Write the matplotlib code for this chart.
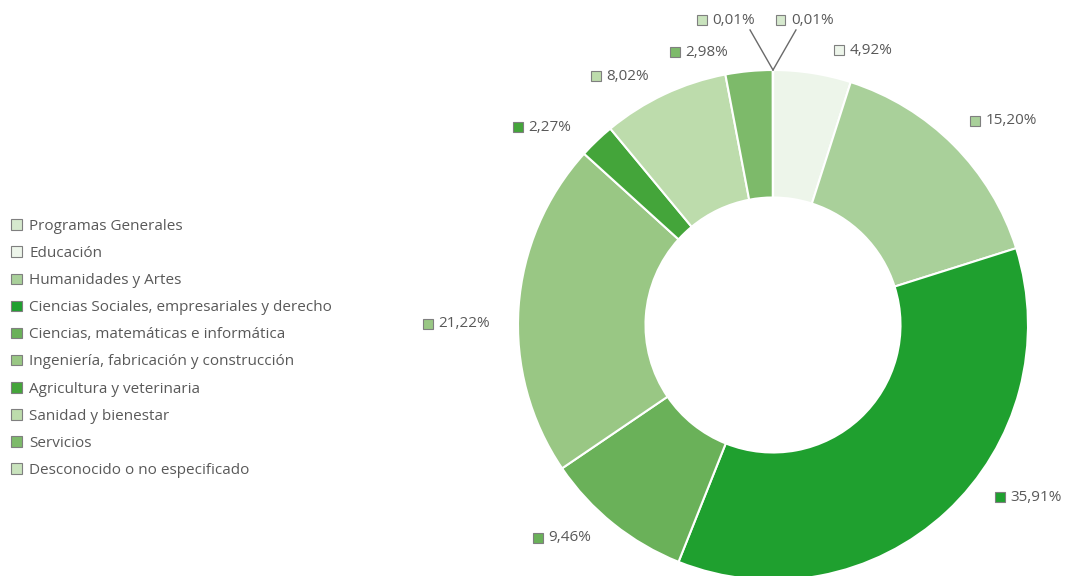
import numpy as np
import matplotlib.pyplot as plt
from matplotlib.patches import Patch

plt.rcParams['font.family'] = ['Open Sans', 'DejaVu Sans']

# data, clockwise from the top of the ring
categories = ["Programas Generales", "Educación", "Humanidades y Artes",
              "Ciencias Sociales, empresariales y derecho",
              "Ciencias, matemáticas e informática",
              "Ingeniería, fabricación y construcción",
              "Agricultura y veterinaria", "Sanidad y bienestar",
              "Servicios", "Desconocido o no especificado"]
shares = [0.01, 4.92, 15.20, 35.91, 9.46, 21.22, 2.27, 8.02, 2.98, 0.01]
pct_labels = ["0,01%", "4,92%", "15,20%", "35,91%", "9,46%",
              "21,22%", "2,27%", "8,02%", "2,98%", "0,01%"]

colors = ["#d6e9ce", "#edf5ea", "#a9d09a", "#1fa02f", "#6ab159",
          "#99c784", "#44a53a", "#bddcac", "#7dba6a", "#c9e3bd"]

# label anchor (left edge of the small square), in ring radius units
label_pos = [(0.01, 1.196), (0.240, 1.078), (0.773, 0.800), (0.871, -0.675),
             (-0.941, -0.835), (-1.373, 0.004), (-1.020, 0.776),
             (-0.714, 0.976), (-0.404, 1.070), (-0.298, 1.196)]

text_col = "#595959"

fig = plt.figure(figsize=(10.67, 5.76), dpi=100)
W, H = 1067, 576
cx, cy, R = 773, 576 - 325, 255
L = 1.5
ax = fig.add_axes([(cx - L * R) / W, (cy - L * R) / H, 2 * L * R / W, 2 * L * R / H])

wedges, _ = ax.pie(shares, colors=colors, startangle=90, counterclock=False,
                   radius=1.0, wedgeprops=dict(width=0.5, edgecolor='white', linewidth=1.5))
ax.set_xlim(-L, L)
ax.set_ylim(-L, L)
ax.set_aspect('equal')
ax.axis('off')

# data labels with small colour squares
sq = 0.038
for (lx, ly), lab, col in zip(label_pos, pct_labels, colors):
    ax.add_patch(plt.Rectangle((lx, ly - sq / 2), sq, sq, facecolor=col,
                               edgecolor='#7f7f7f', linewidth=0.8, clip_on=False))
    ax.text(lx + sq + 0.022, ly, lab, color=text_col, fontsize=11,
            va='center', ha='left', clip_on=False)

# leader lines for the two tiny slices at the top
ax.plot([0, 0.09], [1.0, 1.157], color='#6a6a6a', lw=1.0, clip_on=False)
ax.plot([0, -0.09], [1.0, 1.157], color='#6a6a6a', lw=1.0, clip_on=False)

# legend
handles = [Patch(facecolor=c, edgecolor='#7f7f7f', linewidth=0.8) for c in colors]
fig.legend(handles, categories, loc='upper left', bbox_to_anchor=(0.005, 1 - 213 / H),
           frameon=False, fontsize=11, labelcolor=text_col,
           handlelength=0.7, handleheight=0.7, handletextpad=0.45,
           labelspacing=0.79, borderaxespad=0)

fig.savefig("out.png", dpi=100)
